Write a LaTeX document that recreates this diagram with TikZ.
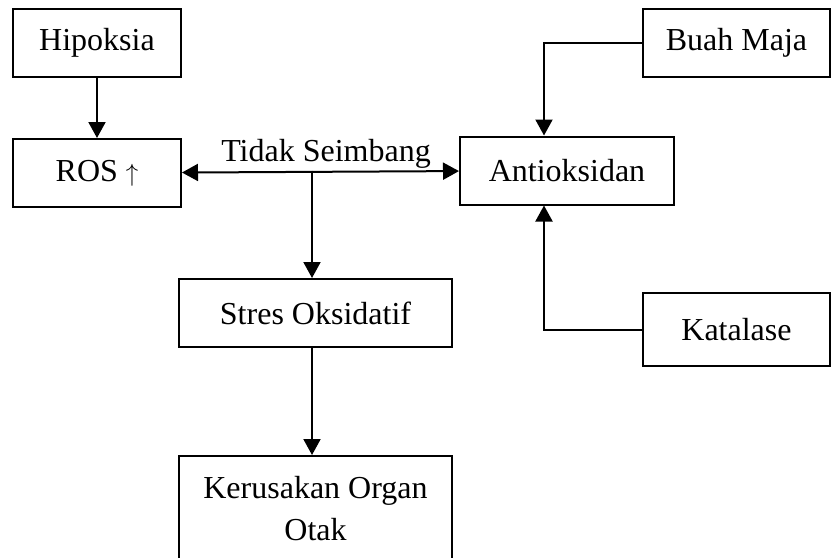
\documentclass[tikz,border=0pt]{standalone}
\usepackage{fontspec}
\setmainfont{Liberation Serif}
\usetikzlibrary{positioning,arrows.meta}

\begin{document}
\begin{tikzpicture}[x=1pt, y=1pt, line width=2pt,
   box/.style={rectangle, draw, minimum height=68pt, inner sep=4pt, align=center,
      font=\fontsize{32}{42}\selectfont},
   arr/.style={-{Triangle[length=16pt,width=17pt]}}]
   \clip (0,0) rectangle (832,-557);
   \node[box, minimum width=168pt] (hipoksia) at (97,-43) {Hipoksia};
   \node[box, minimum width=168pt, below=60pt of hipoksia] (ros) {ROS $\uparrow$};
   \node[box, minimum width=214pt] (antioksidan) at (567,-170.5) {Antioksidan};
   \node[box, minimum width=187pt] (buah) at (736.5,-43) {Buah Maja};
   \node[box, minimum width=187pt, minimum height=73pt] (katalase) at (736.5,-329.5) {Katalase};
   \node[box, minimum width=273pt] (stres) at (315.5,-313) {Stres Oksidatif};
   \node[box, minimum width=273pt, inner ysep=20pt, below=107pt of stres] (otak) {Kerusakan Organ\\Otak};
   \coordinate (split) at (312,-170.5);
   \draw[arr] (hipoksia) -- (ros);
   \draw[{Triangle[length=16pt,width=17pt]}-{Triangle[length=16pt,width=17pt]}] (ros) -- node[above, inner sep=2pt, pos=0.52, font=\fontsize{32}{42}\selectfont] {Tidak Seimbang} (antioksidan);
   \draw[arr] (split) -- (split |- stres.north);
   \draw[arr] (buah.west) -| ([xshift=-23pt]antioksidan.north);
   \draw[arr] (katalase.west) -| ([xshift=-23pt]antioksidan.south);
   \draw[arr] (split |- stres.south) -- (split |- otak.north);
\end{tikzpicture}
\end{document}
